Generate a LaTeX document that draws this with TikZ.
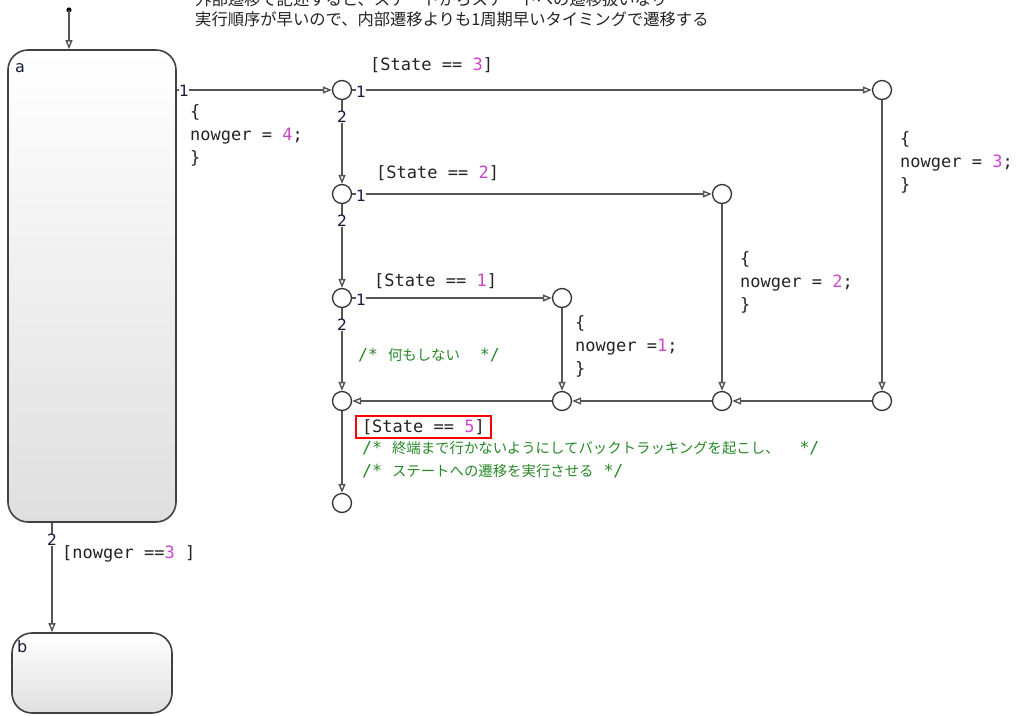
\documentclass[tikz,border=0pt]{standalone}
\usepackage{fontspec}
\setmainfont{DejaVu Sans}
\newfontfamily\mono{DejaVu Sans Mono}
\newfontfamily\jp{Noto Sans CJK JP}
\usetikzlibrary{arrows.meta}
\definecolor{num}{RGB}{205,70,205}
\definecolor{cmt}{RGB}{40,135,40}
\definecolor{lc}{RGB}{85,85,85}
\definecolor{jc}{RGB}{50,50,50}
\definecolor{sc}{RGB}{65,65,65}
\definecolor{ordc}{RGB}{25,25,60}
\definecolor{txt}{RGB}{35,35,35}
\newcommand\J[1]{{\jp\fontsize{14.4}{23}\selectfont #1}}
\begin{document}
\begin{tikzpicture}[x=1pt,y=-1pt,
  tr/.style={draw=lc, line width=1.4pt, -{Triangle[open,length=9pt,width=7pt]}},
  junc/.style={circle, draw=jc, line width=1.3pt, fill=white, minimum size=19pt, inner sep=0pt},
  statebox/.style={draw=sc, line width=1.6pt, rounded corners=20pt, top color=white, bottom color=gray!25, inner sep=0pt},
  codetxt/.style={font=\mono\fontsize{17}{23}\selectfont, align=left, inner sep=0pt, anchor=north west, text=txt},
  guard/.style={font=\mono\fontsize{17}{23}\selectfont, inner sep=0pt, anchor=west, text=txt},
  cmnt/.style={font=\mono\fontsize{16.5}{23}\selectfont, inner sep=0pt, anchor=west, text=cmt},
  ordnum/.style={font=\fontsize{15.5}{15.5}\selectfont, inner sep=0.5pt, fill=white, text=ordc},
  slabel/.style={font=\fontsize{16}{16}\selectfont, inner sep=0pt, anchor=base west, text=ordc},
  notetxt/.style={font=\jp\fontsize{16.3}{20}\selectfont, inner sep=0pt, anchor=base west, text=txt},
]
\useasboundingbox (0,0) rectangle (1016,715);

% top notes
\node[notetxt] (n1) at (195,5) {外部遷移で記述すると、ステートからステートへの遷移扱いなり};
\node[notetxt] (n2) at (195,25) {実行順序が早いので、内部遷移よりも1周期早いタイミングで遷移する};

% states
\node[statebox, minimum width=168pt, minimum height=472pt] (a) at (92,286) {};
\node[statebox, minimum width=160pt, minimum height=80pt] (b) at (92,673) {};
\node[slabel] (la) at (15,72) {a};
\node[slabel] (lb) at (17,652) {b};

% default transition
\coordinate (init) at (69,10);
\fill[black] (init) circle (2.6);
\draw[tr] (init) -- (init |- a.north);

% junctions
\node[junc] (j1) at (342,90) {};
\node[junc] (j2) at (342,194) {};
\node[junc] (j3) at (342,298) {};
\node[junc] (j4) at (342,401) {};
\node[junc] (j5) at (342,503) {};
\node[junc] (r1) at (882,90) {};
\node[junc] (r2) at (722,194) {};
\node[junc] (r3) at (562,298) {};
\node[junc] (b1) at (882,401) {};
\node[junc] (b2) at (722,401) {};
\node[junc] (b3) at (562,401) {};

% connectors
\draw[tr] (a.east |- j1) -- (j1);
\draw[tr] (j1) -- (r1);
\draw[tr] (j1) -- (j2);
\draw[tr] (j2) -- (r2);
\draw[tr] (j2) -- (j3);
\draw[tr] (j3) -- (r3);
\draw[tr] (j3) -- (j4);
\draw[tr] (r1) -- (b1);
\draw[tr] (r2) -- (b2);
\draw[tr] (r3) -- (b3);
\draw[tr] (b1) -- (b2);
\draw[tr] (b2) -- (b3);
\draw[tr] (b3) -- (j4);
\draw[tr] (j4) -- (j5);
\draw[tr] ([xshift=-40pt]a.south) -- ([xshift=-40pt]b.north);

% execution order numbers
\node[ordnum] (o0) at (184,91) {1};
\node[ordnum] (o1) at (361,92) {1};
\node[ordnum] (o2) at (342,117) {2};
\node[ordnum] (o3) at (361,196) {1};
\node[ordnum] (o4) at (342,221) {2};
\node[ordnum] (o5) at (361,300) {1};
\node[ordnum] (o6) at (342,325) {2};
\node[ordnum] (o7) at (52,540) {2};

% guards
\node[guard] (g3) at (370,65) {[State == \textcolor{num}{3}]};
\node[guard] (g2) at (376,173) {[State == \textcolor{num}{2}]};
\node[guard] (g1) at (374,281) {[State == \textcolor{num}{1}]};
\node[guard, draw=red, line width=2pt, inner xsep=6pt, inner ysep=3pt, minimum height=22pt] (g5) at (355,427) {[State == \textcolor{num}{5}]};
\node[guard] (gb) at (62,554) {[nowger ==\textcolor{num}{3} ]};

% actions
\node[codetxt] (c4) at (190,104) {\{\\nowger = \textcolor{num}{4};\\\}};
\node[codetxt] (c3) at (900,131) {\{\\nowger = \textcolor{num}{3};\\\}};
\node[codetxt] (c2) at (740,251) {\{\\nowger = \textcolor{num}{2};\\\}};
\node[codetxt] (c1) at (575,315) {\{\\nowger =\textcolor{num}{1};\\\}};

% comments
\node[cmnt] (k0) at (358,355) {/*~\J{何もしない}~~*/};
\node[cmnt] (k1) at (362,448) {/*~\J{終端まで行かないようにしてバックトラッキングを起こし、}~~*/};
\node[cmnt] (k2) at (362,471) {/*~\J{ステートへの遷移を実行させる}~*/};
\end{tikzpicture}
\end{document}
